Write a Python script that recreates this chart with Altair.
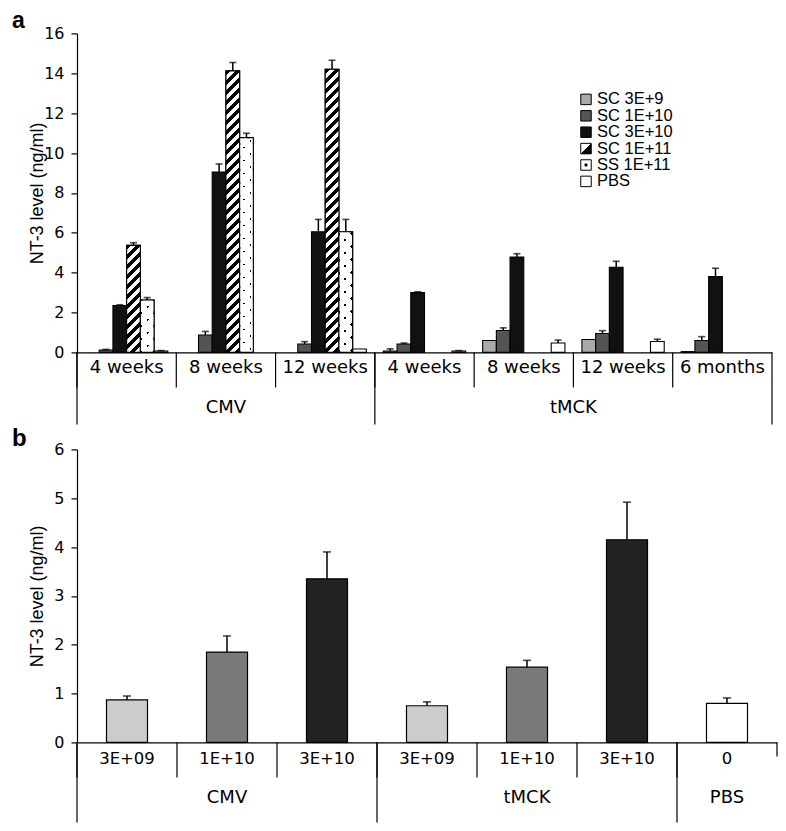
import altair as alt
import pandas as pd

FONT = "Liberation Sans"
WIDE = "DejaVu Sans"
BLACK = "#000000"
WHITE = "#ffffff"
CLEAR = "rgba(255,255,255,0)"

# ---------------- panel a data ----------------
a_cats = ["CMV|4 weeks", "CMV|8 weeks", "CMV|12 weeks",
          "tMCK|4 weeks", "tMCK|8 weeks", "tMCK|12 weeks", "tMCK|6 months"]
a_series = ["SC 3E+9", "SC 1E+10", "SC 3E+10", "SC 1E+11", "SS 1E+11", "PBS"]
a_colors = ["#a9a9a9", "#545454", "#111111", "#ffffff", "#ffffff", "#ffffff"]

a_sc3e9 = [None, None, None, 0.07, 0.60, 0.65, 0.04]
a_sc1e10 = [0.12, 0.87, 0.42, 0.42, 1.10, 0.95, 0.60]
a_sc3e10 = [2.35, 9.05, 6.05, 3.00, 4.78, 4.27, 3.80]
a_sc1e11 = [5.37, 14.12, 14.20, None, None, None, None]
a_ss1e11 = [2.63, 10.77, 6.05, None, None, None, None]
a_pbs = [0.07, None, 0.17, 0.07, 0.47, 0.55, None]

a_sc3e9_err = [None, None, None, 0.11, 0.0, 0.0, 0.0]
a_sc1e10_err = [0.03, 0.18, 0.12, 0.05, 0.13, 0.14, 0.19]
a_sc3e10_err = [0.04, 0.40, 0.62, 0.04, 0.17, 0.30, 0.42]
a_sc1e11_err = [0.13, 0.42, 0.45, None, None, None, None]
a_ss1e11_err = [0.12, 0.22, 0.62, None, None, None, None]
a_pbs_err = [0.02, None, 0.0, 0.02, 0.15, 0.11, None]

# ---------------- panel b data ----------------
b_cats = ["CMV|3E+09", "CMV|1E+10", "CMV|3E+10",
          "tMCK|3E+09", "tMCK|1E+10", "tMCK|3E+10", "PBS|0"]
b_vals = [0.87, 1.85, 3.35, 0.75, 1.54, 4.15, 0.80]
b_err = [0.08, 0.33, 0.55, 0.08, 0.14, 0.77, 0.11]
b_colors = ["#cccccc", "#7a7a7a", "#222222", "#cccccc", "#7a7a7a", "#222222", "#ffffff"]

# ---------------- layout ----------------
WA, HA = 695, 319
WB, HB = 700, 293
SLOT_PAD = 0.62
SLOT_W = WA / 7 / (6 + 2 * SLOT_PAD)
PXA = HA / 16.0

rows = []
for s, vals, errs in zip(a_series,
                         [a_sc3e9, a_sc1e10, a_sc3e10, a_sc1e11, a_ss1e11, a_pbs],
                         [a_sc3e9_err, a_sc1e10_err, a_sc3e10_err, a_sc1e11_err, a_ss1e11_err, a_pbs_err]):
    for c, v, e in zip(a_cats, vals, errs):
        if v is None:
            continue
        rows.append(dict(cat=c, series=s, v=v, err=e, hi=v + e))
dfa = pd.DataFrame(rows)

dfb = pd.DataFrame(dict(cat=b_cats, v=b_vals, err=b_err, color=b_colors))
dfb["hi"] = dfb["v"] + dfb["err"]


def diag_grad(w, h, period, frac, on, off, reverse=False):
    a = w * (w + h) / (w * w + h * h)
    b = h * (w + h) / (w * w + h * h)
    n = (w + h) / period
    stops = []
    k = 0
    while k < n:
        s = k / n
        e = min((k + frac) / n, 1.0)
        f = min((k + 1) / n, 1.0)
        stops += [(s, on), (e, on), (e, off), (f, off)]
        k += 1
    g = {"gradient": "linear", "stops": [{"offset": round(o, 5), "color": c} for o, c in stops]}
    if reverse:
        g.update(x1=0, y1=1, x2=a, y2=1 - b)
    else:
        g.update(x1=0, y1=0, x2=a, y2=b)
    return g


xaxis_a = alt.Axis(title=None, labelExpr="split(datum.label, '|')[1]", ticks=False, tickSize=0,
                   domainColor="black", domainWidth=1.2, labelFont=WIDE, labelFontSize=18,
                   labelColor="black", labelBaseline="middle", labelPadding=15, labelAngle=0,
                   labelLimit=300, grid=False)
yaxis_a = alt.Axis(title="NT-3 level (ng/ml)", values=list(range(0, 17, 2)), tickSize=6,
                   tickColor="black", tickWidth=1.2, domainColor="black", domainWidth=1.2,
                   labelFont=WIDE, labelFontSize=16, labelColor="black", labelPadding=7,
                   titleFontSize=18, titleFontWeight="normal", titleColor="black", titleX=-40,
                   titleBaseline="middle", grid=False)


def xa(band=None):
    kw = {} if band is None else {"bandPosition": band}
    return alt.X("cat:N", sort=a_cats, scale=alt.Scale(domain=a_cats, paddingInner=0, paddingOuter=0),
                 axis=xaxis_a, **kw)


def xo():
    return alt.XOffset("series:N", sort=a_series,
                       scale=alt.Scale(domain=a_series, paddingInner=0, paddingOuter=SLOT_PAD))


def ya(field="v"):
    return alt.Y(f"{field}:Q", scale=alt.Scale(domain=[0, 16], nice=False), axis=yaxis_a)


bars_a = alt.Chart(dfa).mark_bar(stroke="black", strokeWidth=1.1).encode(
    x=xa(), xOffset=xo(), y=ya(),
    fill=alt.Fill("series:N", sort=a_series, scale=alt.Scale(domain=a_series, range=a_colors),
                  legend=None),
)

overlays = []
for c, v in zip(a_cats, a_sc1e11):
    if v is None:
        continue
    g = diag_grad(SLOT_W, v * PXA, 10, 0.5, BLACK, WHITE)
    overlays.append(
        alt.Chart(dfa).transform_filter((alt.datum.cat == c) & (alt.datum.series == "SC 1E+11"))
        .mark_bar(fill=g, stroke="black", strokeWidth=1.1)
        .encode(x=xa(), xOffset=xo(), y=ya())
    )
for c, v in zip(a_cats, a_ss1e11):
    if v is None:
        continue
    h = v * PXA
    g1 = diag_grad(SLOT_W, h, 13, 0.2, BLACK, CLEAR)
    g2 = diag_grad(SLOT_W, h, 13, 0.2, CLEAR, WHITE, reverse=True)
    base = alt.Chart(dfa).transform_filter((alt.datum.cat == c) & (alt.datum.series == "SS 1E+11"))
    overlays.append(base.mark_bar(fill=g1).encode(x=xa(), xOffset=xo(), y=ya()))
    overlays.append(base.mark_bar(fill=g2, stroke="black", strokeWidth=1.1)
                    .encode(x=xa(), xOffset=xo(), y=ya()))

erra = dfa[dfa["err"] > 0]
err_rule_a = alt.Chart(erra).mark_rule(color="black", strokeWidth=1.5).encode(
    x=xa(), xOffset=xo(), y=ya("v"), y2="hi:Q")
err_cap_a = alt.Chart(erra).mark_tick(color="black", thickness=1.6, size=7).encode(
    x=xa(), xOffset=xo(), y=ya("hi"))

div_short_a = alt.Chart(pd.DataFrame({"cat": a_cats})).mark_rule(color="black", strokeWidth=1.2).encode(
    x=xa(0), y=alt.value(HA), y2=alt.value(HA + 35))
div_long_a = alt.Chart(pd.DataFrame({"cat": [a_cats[0], a_cats[3]]})).mark_rule(
    color="black", strokeWidth=1.2).encode(x=xa(0), y=alt.value(HA), y2=alt.value(HA + 72))
div_end_a = alt.Chart(pd.DataFrame({"cat": [a_cats[-1]]})).mark_rule(
    color="black", strokeWidth=1.2).encode(x=xa(1), y=alt.value(HA), y2=alt.value(HA + 72))

grp_a = []
for lab, cat, bp in [("CMV", "CMV|8 weeks", 0.5), ("tMCK", "tMCK|12 weeks", 0.0)]:
    grp_a.append(alt.Chart(pd.DataFrame({"cat": [cat], "lab": [lab]})).mark_text(
        font=WIDE, fontSize=18, baseline="middle", color="black").encode(
        x=xa(bp), y=alt.value(HA + 56), text="lab:N"))

letter_a = alt.Chart(pd.DataFrame({"t": ["a"]})).mark_text(
    align="left", baseline="alphabetic", fontSize=23, fontWeight="bold", color="black",
    x=-65, y=-5).encode(text="t:N")

main_a = alt.layer(bars_a, *overlays, err_rule_a, err_cap_a, div_short_a, div_long_a, div_end_a,
                   *grp_a, letter_a)

# ---- legend (in-plot) ----
leg_df = pd.DataFrame({"series": a_series, "color": a_colors})
leg_y = alt.Y("series:N", sort=a_series,
              scale=alt.Scale(type="point", domain=a_series, range=[66, 148], padding=0), axis=None)
leg_plain = alt.Chart(leg_df).transform_filter(
    (alt.datum.series != "SC 1E+11") & (alt.datum.series != "SS 1E+11")
).mark_square(size=110, stroke="black", strokeWidth=1, opacity=1).encode(
    x=alt.value(509), y=leg_y, fill=alt.Fill("color:N", scale=None))
hatch_sym = {"gradient": "linear", "x1": 0, "y1": 0, "x2": 1, "y2": 1,
             "stops": [{"offset": 0, "color": WHITE}, {"offset": 0.5, "color": WHITE},
                       {"offset": 0.5, "color": BLACK}, {"offset": 1, "color": BLACK}]}
dot_sym = {"gradient": "radial", "x1": 0.5, "y1": 0.5, "r1": 0, "x2": 0.5, "y2": 0.5, "r2": 0.5,
           "stops": [{"offset": 0, "color": BLACK}, {"offset": 0.28, "color": BLACK},
                     {"offset": 0.28, "color": WHITE}, {"offset": 1, "color": WHITE}]}
leg_hatch = alt.Chart(leg_df).transform_filter(alt.datum.series == "SC 1E+11").mark_square(
    size=110, stroke="black", strokeWidth=1, fill=hatch_sym, opacity=1).encode(x=alt.value(509), y=leg_y)
leg_dot = alt.Chart(leg_df).transform_filter(alt.datum.series == "SS 1E+11").mark_square(
    size=110, stroke="black", strokeWidth=1, fill=dot_sym, opacity=1).encode(x=alt.value(509), y=leg_y)
leg_text = alt.Chart(leg_df).mark_text(align="left", baseline="middle", fontSize=16.5, color="black").encode(
    x=alt.value(520), y=leg_y, text="series:N")
legend_a = alt.layer(leg_plain, leg_hatch, leg_dot, leg_text)

panel_a = alt.layer(main_a, legend_a).resolve_scale(y="independent").properties(width=WA, height=HA)

# ---------------- panel b ----------------
xaxis_b = alt.Axis(title=None, labelExpr="split(datum.label, '|')[1]", ticks=False, tickSize=0,
                   domainColor="black", domainWidth=1.2, labelFont=WIDE, labelFontSize=16.5,
                   labelColor="black", labelBaseline="middle", labelPadding=16, labelAngle=0,
                   labelLimit=300, grid=False)
yaxis_b = alt.Axis(title="NT-3 level (ng/ml)", values=list(range(0, 7)), tickSize=6,
                   tickColor="black", tickWidth=1.2, domainColor="black", domainWidth=1.2,
                   labelFont=WIDE, labelFontSize=16, labelColor="black", labelPadding=7,
                   titleFontSize=18, titleFontWeight="normal", titleColor="black", titleX=-40,
                   titleBaseline="middle", grid=False)


def xb(band=None):
    kw = {} if band is None else {"bandPosition": band}
    return alt.X("cat:N", sort=b_cats, scale=alt.Scale(domain=b_cats, paddingInner=0, paddingOuter=0),
                 axis=xaxis_b, **kw)


def yb(field="v"):
    return alt.Y(f"{field}:Q", scale=alt.Scale(domain=[0, 6], nice=False), axis=yaxis_b)


bars_b = alt.Chart(dfb).mark_bar(stroke="black", strokeWidth=1.2, width={"band": 0.41}).encode(
    x=xb(), y=yb(), fill=alt.Fill("color:N", scale=None))
err_rule_b = alt.Chart(dfb).mark_rule(color="black", strokeWidth=1.5).encode(x=xb(), y=yb("v"), y2="hi:Q")
err_cap_b = alt.Chart(dfb).mark_tick(color="black", thickness=1.6, size=8).encode(x=xb(), y=yb("hi"))

div_short_b = alt.Chart(pd.DataFrame({"cat": b_cats})).mark_rule(color="black", strokeWidth=1.2).encode(
    x=xb(0), y=alt.value(HB), y2=alt.value(HB + 35))
div_long_b = alt.Chart(pd.DataFrame({"cat": [b_cats[0], b_cats[3], b_cats[6]]})).mark_rule(
    color="black", strokeWidth=1.2).encode(x=xb(0), y=alt.value(HB), y2=alt.value(HB + 80))
div_end_b = alt.Chart(pd.DataFrame({"cat": [b_cats[-1]]})).mark_rule(
    color="black", strokeWidth=1.2).encode(x=xb(1), y=alt.value(HB), y2=alt.value(HB + 14))

grp_b = []
for lab, cat in [("CMV", "CMV|1E+10"), ("tMCK", "tMCK|1E+10"), ("PBS", "PBS|0")]:
    grp_b.append(alt.Chart(pd.DataFrame({"cat": [cat], "lab": [lab]})).mark_text(
        font=WIDE, fontSize=18, baseline="middle", color="black").encode(
        x=xb(), y=alt.value(HB + 56), text="lab:N"))

letter_b = alt.Chart(pd.DataFrame({"t": ["b"]})).mark_text(
    align="left", baseline="alphabetic", fontSize=24, fontWeight="bold", color="black",
    x=-65, y=-3).encode(text="t:N")

panel_b = alt.layer(bars_b, err_rule_b, err_cap_b, div_short_b, div_long_b, div_end_b,
                    *grp_b, letter_b).properties(width=WB, height=HB)

chart = alt.vconcat(panel_a, panel_b, spacing=2).properties(
    padding={"left": 4, "top": 2.4, "right": 0, "bottom": 0}
).configure(font=FONT, background="white").configure_view(stroke=None)

chart.save("out.html", embed_options={"renderer": "svg", "actions": False})
